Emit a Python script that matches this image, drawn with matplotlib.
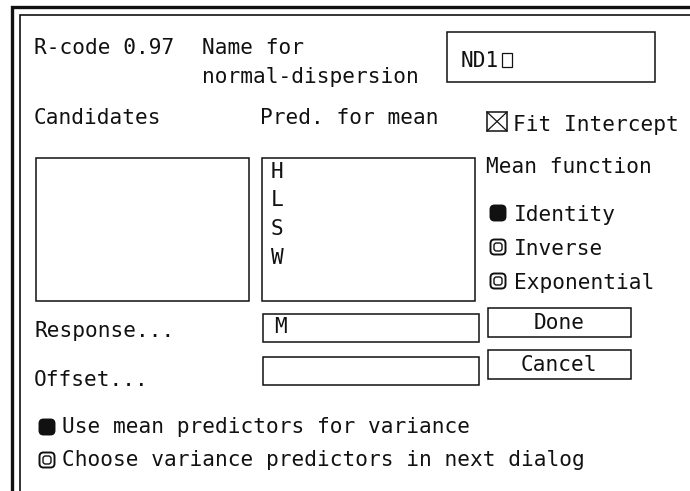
import matplotlib.pyplot as plt
from matplotlib.patches import Rectangle, FancyBboxPatch

# dialog content
version_label = "R-code 0.97"
name_prompt = ["Name for", "normal-dispersion"]
model_name = "ND1"
list_titles = ["Candidates", "Pred. for mean"]
candidates = []
mean_predictors = ["H", "L", "S", "W"]
fit_intercept = True
fit_intercept_label = "Fit Intercept"
mean_function_title = "Mean function"
mean_functions = ["Identity", "Inverse", "Exponential"]
mean_function_selected = 0
field_labels = ["Response...", "Offset..."]
field_values = ["M", ""]
buttons = ["Done", "Cancel"]
variance_options = ["Use mean predictors for variance",
                    "Choose variance predictors in next dialog"]
variance_selected = 0

FONT = "DejaVu Sans Mono"
FS = 15.2
INK = "#111111"
LW = 1.1

fig = plt.figure(figsize=(6.9, 4.91), dpi=100)
ax = fig.add_axes([0, 0, 1, 1])
ax.set_xlim(0, 690)
ax.set_ylim(491, 0)
ax.axis("off")


def txt(x, y, s, **kw):
    ax.text(x, y, s, fontfamily=FONT, fontsize=FS, color=INK, va="baseline", **kw)


def box(x0, y0, x1, y1, lw=LW):
    ax.add_patch(Rectangle((x0, y0), x1 - x0, y1 - y0, fill=False, ec=INK, lw=lw))


def radio(cx, cy, on):
    ax.add_patch(FancyBboxPatch((cx - 6, cy - 6), 12, 12, boxstyle="round,pad=1.5,rounding_size=4",
                                fc=INK if on else "white", ec=INK, lw=1.4))
    if not on:
        ax.add_patch(FancyBboxPatch((cx - 4, cy - 4), 8, 8, boxstyle="round,pad=0,rounding_size=2.5",
                                    fc="white", ec=INK, lw=1.0))


# window frame (clipped at right and bottom)
ax.plot([12, 12, 700], [500, 6.5, 6.5], color=INK, lw=2.4, solid_joinstyle="miter")
ax.plot([19.5, 19.5, 700], [500, 14.5, 14.5], color=INK, lw=1.2, solid_joinstyle="miter")

# header
txt(34, 54, version_label)
txt(202, 54, name_prompt[0])
txt(202, 83, name_prompt[1])
box(447, 32, 655, 82)
txt(461, 67, model_name)
ax.add_patch(Rectangle((502, 53), 10, 14, fill=False, ec=INK, lw=0.9))

# list titles
txt(34, 124, list_titles[0])
txt(260, 124, list_titles[1])

# fit intercept checkbox
box(487, 112, 507, 131)
if fit_intercept:
    ax.plot([487, 507], [112, 131], color=INK, lw=0.9)
    ax.plot([487, 507], [131, 112], color=INK, lw=0.9)
txt(513, 131, fit_intercept_label)

# list boxes
box(36, 158, 249, 301)
for i, c in enumerate(candidates):
    txt(47, 178 + i * 28.5, c)
box(262, 158, 475, 301)
for i, p in enumerate(mean_predictors):
    txt(271, 178 + i * 28.5, p)

# mean function
txt(486, 173, mean_function_title)
for i, f in enumerate(mean_functions):
    cy = 213 + i * 34
    radio(498, cy, i == mean_function_selected)
    txt(514, cy + 8, f)

# response / offset fields
for i, (lab, val) in enumerate(zip(field_labels, field_values)):
    txt(34, 337 + i * 49, lab)
    y0 = 314 + i * 43
    box(263, y0, 479, y0 + 28)
    txt(274, y0 + 19, val)

# buttons
for i, b in enumerate(buttons):
    y0 = 308 + i * 42
    box(488, y0, 631, y0 + 29)
    txt(559, y0 + 21, b, ha="center")

# variance choice
for i, v in enumerate(variance_options):
    cy = 427 + i * 33
    radio(47, cy, i == variance_selected)
    txt(62, cy + 6, v)

fig.savefig("out.png", dpi=100, facecolor="white")
